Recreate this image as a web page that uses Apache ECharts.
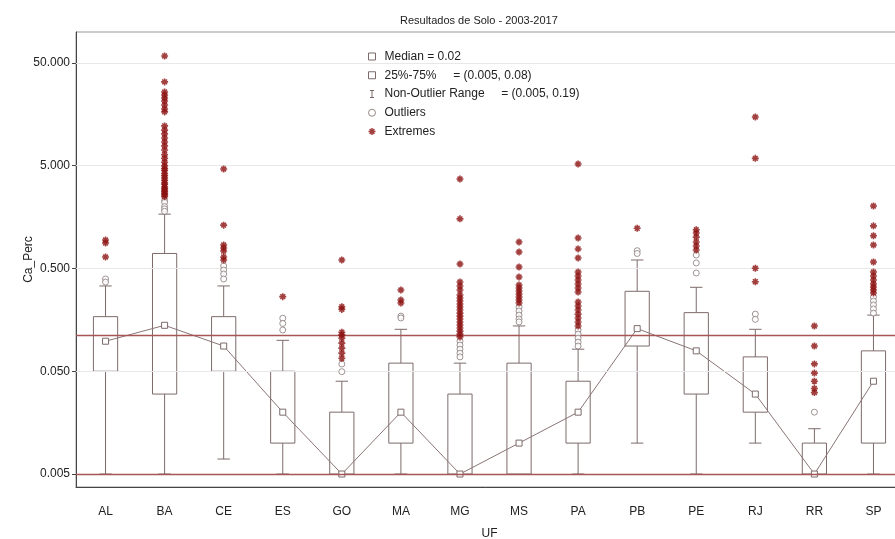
<!DOCTYPE html>
<html><head><meta charset="utf-8">
<script src="https://cdn.jsdelivr.net/npm/echarts@6/dist/echarts.min.js"></script>
<style>html,body{margin:0;padding:0;background:#fff}#c{width:895px;height:539px}</style>
</head><body><div id="c"></div>
<script>
const categories = ['AL','BA','CE','ES','GO','MA','MG','MS','PA','PB','PE','RJ','RR','SP'];
const lowWhisker  = [0.005, 0.005, 0.007, 0.005, 0.005, 0.005, 0.005, 0.005, 0.005, 0.01,  0.005, 0.01,  0.005,  0.005];
const q1          = [0.05,  0.03,  0.05,  0.01,  0.005, 0.01,  0.005, 0.005, 0.01,  0.088, 0.03,  0.02,  0.005,  0.01];
const medians     = [0.098, 0.14,  0.088, 0.02,  0.005, 0.02,  0.005, 0.01,  0.02,  0.13,  0.079, 0.03,  0.005,  0.04];
const q3          = [0.17,  0.70,  0.17,  0.05,  0.02,  0.06,  0.03,  0.06,  0.04,  0.30,  0.186, 0.069, 0.01,   0.079];
const highWhisker = [0.338, 1.69,  0.338, 0.1,   0.04,  0.128, 0.06,  0.138, 0.082, 0.605, 0.328, 0.128, 0.0138, 0.176];
const outliers = [
  [0.395, 0.369],
  [2.3, 2.2, 2.0, 1.9, 1.8],
  [0.529, 0.483, 0.442, 0.395],
  [0.164, 0.146, 0.126],
  [0.0495, 0.0588],
  [0.172, 0.165],
  [0.098, 0.09, 0.082, 0.075, 0.069],
  [0.211, 0.193, 0.176, 0.161, 0.151],
  [0.126, 0.115, 0.105, 0.096, 0.088],
  [0.745, 0.70],
  [0.676, 0.566, 0.452],
  [0.18, 0.16],
  [0.02],
  [0.264, 0.241, 0.221, 0.202, 0.184]
];
const extremes = [
  [0.946, 0.885, 0.647],
  [58.5, 32.7, 26.1, 24.4, 22.8, 21.3, 19.5, 17.8, 16.7, 12.2, 11.1, 10.2, 9.3, 8.5, 7.8, 7.1, 6.4, 5.9, 5.4, 5.0, 4.7, 4.5, 4.2, 4.0, 3.8, 3.6, 3.4, 3.3, 3.1, 3.0, 2.9, 2.8, 2.7, 2.6, 2.5],
  [4.65, 1.32, 0.847, 0.792, 0.74, 0.647, 0.605],
  [0.266],
  [0.605, 0.212, 0.2, 0.12, 0.113, 0.105, 0.094, 0.084, 0.075, 0.067],
  [0.309, 0.247, 0.231],
  [3.71, 1.52, 0.553, 0.369, 0.338, 0.309, 0.276, 0.258, 0.241, 0.226, 0.211, 0.197, 0.184, 0.172, 0.161, 0.151, 0.141, 0.132, 0.123, 0.115, 0.108],
  [0.906, 0.724, 0.517, 0.413, 0.345, 0.323, 0.302, 0.282, 0.264, 0.247, 0.231],
  [5.2, 0.99, 0.775, 0.632, 0.462, 0.422, 0.386, 0.353, 0.323, 0.295, 0.236, 0.216, 0.197, 0.18, 0.165, 0.151, 0.138],
  [1.23],
  [1.19, 1.107, 1.01, 0.906, 0.828, 0.757],
  [14.9, 5.9, 0.502, 0.372],
  [0.138, 0.088, 0.059, 0.048, 0.04, 0.034, 0.031],
  [2.03, 1.30, 1.04, 0.847, 0.578, 0.462, 0.422, 0.386, 0.353, 0.33, 0.309, 0.289]
];
const yTicks = [0.005, 0.05, 0.5, 5, 50];
const refLines = [0.005, 0.113];
const legendNames = ['Median = 0.02', '25%-75%     = (0.005, 0.08)', 'Non-Outlier Range     = (0.005, 0.19)', 'Outliers', 'Extremes'];

const boxColor = '#7d6b6b';
const extColor = '#8b1010';
const asterisk = 'path://M5,0L5,10M0,5L10,5M1.6,1.6L8.4,8.4M8.4,1.6L1.6,8.4';
const ibeam = 'path://M0,0L6,0M3,0L3,10M0,10L6,10';

const boxData = categories.map((c, i) => [i, lowWhisker[i], q1[i], medians[i], q3[i], highWhisker[i]]);
const outData = [];
outliers.forEach((arr, i) => arr.forEach(v => outData.push([i, v])));
const extData = [];
extremes.forEach((arr, i) => arr.forEach(v => extData.push([i, v])));

const chart = echarts.init(document.getElementById('c'), null, {renderer: 'canvas'});
chart.setOption({
  animation: false,
  backgroundColor: '#fff',
  textStyle: {fontFamily: 'Liberation Sans, Arial, sans-serif'},
  title: {
    text: 'Resultados de Solo - 2003-2017', left: 395, top: 10,
    textStyle: {fontSize: 11, fontWeight: 'normal', color: '#222', fontFamily: 'Liberation Sans, Arial, sans-serif'}
  },
  legend: {
    orient: 'vertical', left: 361, top: 45, itemWidth: 7, itemHeight: 7, itemGap: 5.75,
    selectedMode: false,
    textStyle: {fontSize: 12, color: '#222', lineHeight: 13, padding: [0, 0, 0, 4]},
    data: [
      {name: legendNames[0], icon: 'rect', itemStyle: {color: '#fff', borderColor: boxColor, borderWidth: 1}},
      {name: legendNames[1], icon: 'rect', itemStyle: {color: '#fff', borderColor: boxColor, borderWidth: 1}},
      {name: legendNames[2], icon: ibeam, itemStyle: {color: 'none', borderColor: boxColor, borderWidth: 1}},
      {name: legendNames[3], icon: 'circle', itemStyle: {color: '#fff', borderColor: boxColor, borderWidth: 1}},
      {name: legendNames[4], icon: asterisk, itemStyle: {color: 'none', borderColor: extColor, borderWidth: 1.5}}
    ]
  },
  grid: {left: 76, right: -8, top: 32, bottom: 52, outerBoundsMode: 'none', containLabel: false,
         show: true, borderColor: '#999', borderWidth: 1, backgroundColor: 'transparent'},
  xAxis: {
    type: 'category', data: categories, boundaryGap: true,
    name: 'UF', nameLocation: 'middle', nameGap: 41,
    nameTextStyle: {fontSize: 12, color: '#222'},
    axisLine: {lineStyle: {color: '#444', width: 1}},
    axisTick: {alignWithLabel: true, length: 4, lineStyle: {color: '#444'}},
    axisLabel: {fontSize: 12, color: '#222', margin: 19},
    splitLine: {show: false}
  },
  yAxis: {
    type: 'log', logBase: 10, min: 0.00374, max: 100,
    name: 'Ca_Perc', nameLocation: 'middle', nameGap: 41, nameMoveOverlap: false,
    nameTextStyle: {fontSize: 12, color: '#222'},
    axisLine: {show: true, lineStyle: {color: '#444', width: 1}},
    axisTick: {show: true, length: 4, customValues: yTicks, lineStyle: {color: '#444'}},
    axisLabel: {fontSize: 12, color: '#222', margin: 6, customValues: yTicks, formatter: v => Number(v).toFixed(3)},
    splitLine: {show: false},
    minorTick: {show: false}
  },
  series: [
    {
      name: 'grid', type: 'line', data: [], z: 1, silent: true,
      markLine: {
        silent: true, symbol: 'none', label: {show: false}, precision: 6,
        lineStyle: {color: '#e8e8e8', width: 1, type: 'solid'},
        data: yTicks.map(v => ({yAxis: v}))
      }
    },
    {
      name: legendNames[1], type: 'custom', z: 2,
      encode: {x: 0, y: [1, 2, 3, 4, 5]},
      itemStyle: {color: boxColor},
      data: boxData,
      renderItem: function (params, api) {
        const x = api.value(0);
        const pLow = api.coord([x, api.value(1)]);
        const pQ1 = api.coord([x, api.value(2)]);
        const pQ3 = api.coord([x, api.value(4)]);
        const pHigh = api.coord([x, api.value(5)]);
        const band = api.size([1, 0])[0];
        const bw = band * 0.41, cw = band * 0.21;
        const cx = pLow[0];
        const st = {stroke: boxColor, fill: null, lineWidth: 1};
        return {type: 'group', children: [
          {type: 'line', shape: {x1: cx, y1: pLow[1], x2: cx, y2: pQ1[1]}, style: st},
          {type: 'line', shape: {x1: cx, y1: pQ3[1], x2: cx, y2: pHigh[1]}, style: st},
          {type: 'line', shape: {x1: cx - cw / 2, y1: pHigh[1], x2: cx + cw / 2, y2: pHigh[1]}, style: st},
          {type: 'line', shape: {x1: cx - cw / 2, y1: pLow[1], x2: cx + cw / 2, y2: pLow[1]}, style: st},
          {type: 'rect', shape: {x: cx - bw / 2, y: pQ3[1], width: bw, height: pQ1[1] - pQ3[1]}, style: {stroke: boxColor, fill: '#fff', lineWidth: 1}}
        ]};
      }
    },
    {
      name: legendNames[2], type: 'line', data: [], itemStyle: {color: boxColor}
    },
    {
      name: 'ref', type: 'line', data: [], z: 3, silent: true,
      markLine: {
        silent: true, symbol: 'none', label: {show: false}, precision: 6,
        lineStyle: {color: '#a85555', width: 1.3, type: 'solid'},
        data: refLines.map(v => ({yAxis: v}))
      }
    },
    {
      name: legendNames[0], type: 'line', z: 4,
      data: medians.map((v, i) => [i, v]),
      symbol: 'rect', symbolSize: 6,
      lineStyle: {color: '#8a7575', width: 1},
      itemStyle: {color: '#fff', borderColor: boxColor, borderWidth: 1}
    },
    {
      name: legendNames[3], type: 'scatter', z: 5,
      data: outData, symbol: 'circle', symbolSize: 6,
      itemStyle: {color: '#fff', borderColor: '#8a7a7a', borderWidth: 1}
    },
    {
      name: legendNames[4], type: 'scatter', z: 6,
      data: extData, symbol: asterisk, symbolSize: 7,
      itemStyle: {color: 'none', borderColor: extColor, borderWidth: 1.6}
    }
  ]
});
</script></body></html>
